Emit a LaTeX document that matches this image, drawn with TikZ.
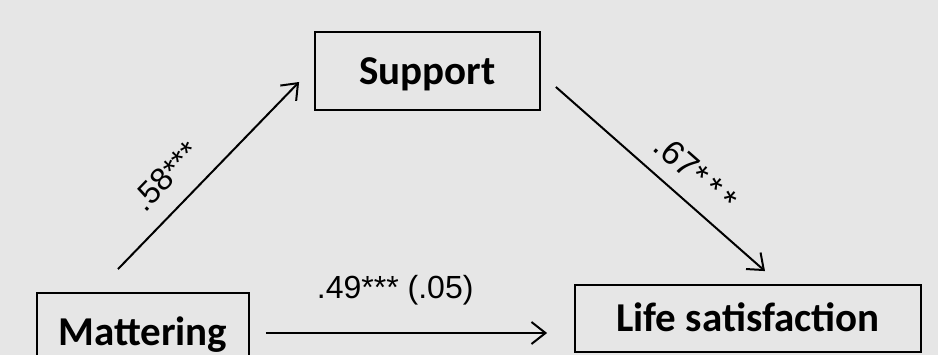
\documentclass[tikz,border=0pt]{standalone}
\usepackage{fontspec}
\setmainfont{Liberation Sans}
\newfontfamily\boxfont{Carlito}
\usetikzlibrary{arrows.meta}
\definecolor{bgcol}{RGB}{230,230,230}

\begin{document}
\begin{tikzpicture}[x=1pt, y=1pt,
                    var/.style={draw, line width=1.8pt, fill=bgcol, inner sep=0pt,
                                font=\boxfont\bfseries\fontsize{41}{41}\selectfont,
                                text height=27pt, text depth=0pt, minimum height=78pt},
                    effect/.style={line width=2pt, -{Straight Barb[length=14pt, width=22pt, line width=2pt]}},
                    coef/.style={font=\fontsize{32}{32}\selectfont, inner sep=0pt}]
  \fill[bgcol] (0,0) rectangle (938,355);
  \useasboundingbox (0,0) rectangle (938,355);
  \clip (0,0) rectangle (938,355);
  \node[var, minimum width=225pt] (support) at (427.5,284) {Support};
  \node[var, minimum width=212pt] (mattering) at (143,23) {Mattering};
  \node[var, minimum width=346pt, minimum height=67pt] (life) at (748,36.5) {Life satisfaction};
  \draw[effect] ([shift={(-25,23)}]mattering.north) -- ([shift={(-15,-11)}]support.west)
    node[coef, sloped, pos=.385, above=18pt] {.58***};
  \draw[effect] ([shift={(15,-16)}]support.east) -- ([shift={(17,13)}]life.north)
    node[coef, sloped, pos=.58, above=15pt, font=\fontsize{34}{34}\selectfont] {.67*\,*\,*};
  \draw[effect] ([shift={(16,-1)}]mattering.east) -- ([shift={(-27,-14.5)}]life.west)
    node[coef, pos=.46, anchor=base, yshift=34pt] {.49*** (.05)};
\end{tikzpicture}
\end{document}
